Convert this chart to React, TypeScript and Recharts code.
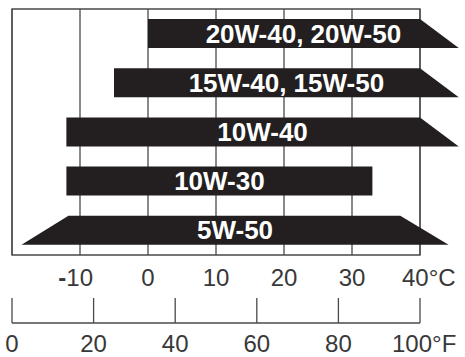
import { BarChart, Bar, XAxis, YAxis, CartesianGrid, ReferenceArea } from 'recharts';

// SAE grades, top to bottom
const grades = ['20W-40, 20W-50', '15W-40, 15W-50', '10W-40', '10W-30', '5W-50'];
// temperature span in °C along the top edge of each band
const topFrom = [0, -5, -12, -12, -11.7];
const topTo = [40, 40, 40, 33, 37.1];
// and along the bottom edge (slanted ends = arrows)
const bottomFrom = [0, -5, -12, -12, -18.6];
const bottomTo = [45.7, 45.7, 45.7, 33, 44.2];

const celsiusTicks = [-20, -10, 0, 10, 20, 30, 40];
const fahrenheitTicks = [0, 20, 40, 60, 80, 100];

const data = grades.map((grade, i) => ({
  grade,
  range: [topFrom[i], topTo[i]],
  bottomFrom: bottomFrom[i],
  bottomTo: bottomTo[i],
}));

const FONT = '"Liberation Sans", Arial, sans-serif';
const LINE = '#4a4a4a';
const INK = '#383838';

function GradeShape(props: any) {
  const { x, y, width, height, payload } = props;
  const [a, b] = payload.range;
  const k = width / (b - a);
  const tl = x;
  const tr = x + width;
  const bl = x + (payload.bottomFrom - a) * k;
  const br = x + (payload.bottomTo - a) * k;
  const left = Math.min(tl, bl);
  const right = Math.max(tr, br);
  return (
    <g>
      <polygon
        points={`${tl},${y} ${tr},${y} ${br},${y + height} ${bl},${y + height}`}
        fill="#231f20"
      />
      <text
        x={(left + right) / 2}
        y={y + height / 2 + 9}
        textAnchor="middle"
        fill="#fff"
        fontSize={26}
        fontWeight="bold"
        fontFamily={FONT}
      >
        {payload.grade}
      </text>
    </g>
  );
}

function CelsiusTick(props: any) {
  const { x, y, payload } = props;
  const v = payload.value;
  if (v === -20) return <g />;
  const common = { fontSize: 24, fontFamily: FONT, fill: INK };
  if (v < 0) {
    return (
      <text x={x + 13} y={y + 31} textAnchor="end" {...common}>
        <tspan fontWeight="bold">-</tspan>
        {Math.abs(v)}
      </text>
    );
  }
  if (v === 40) {
    return (
      <text x={x - 18} y={y + 31} textAnchor="start" {...common}>
        {v}°C
      </text>
    );
  }
  return (
    <text x={x} y={y + 31} textAnchor="middle" {...common}>
      {v}
    </text>
  );
}

function FahrenheitTick(props: any) {
  const { x, y, payload } = props;
  const v = payload.value;
  const common = { fontSize: 24, fontFamily: FONT, fill: INK };
  return (
    <g>
      <line x1={x} y1={y} x2={x} y2={y - 25} stroke={LINE} strokeWidth={1.3} />
      {v === 100 ? (
        <text x={x - 28} y={y + 29} textAnchor="start" {...common}>
          {v}°F
        </text>
      ) : (
        <text x={x} y={y + 29} textAnchor="middle" {...common}>
          {v}
        </text>
      )}
    </g>
  );
}

export default function App() {
  return (
    <div style={{ position: 'absolute', left: 0, top: 0, background: '#fff' }}>
      <BarChart
        width={465}
        height={357}
        data={data}
        layout="vertical"
        margin={{ top: 9, right: 45, left: 12, bottom: 0 }}
      >
        <CartesianGrid
          xAxisId="c"
          horizontal={false}
          stroke={LINE}
          strokeWidth={1.3}
        />
        <ReferenceArea
          xAxisId="c"
          x1={-20}
          x2={40}
          fill="none"
          fillOpacity={0}
          stroke={LINE}
          strokeWidth={1.3}
        />
        <YAxis type="category" dataKey="grade" hide />
        <XAxis
          xAxisId="c"
          type="number"
          domain={[-20, 40]}
          ticks={celsiusTicks}
          interval={0}
          height={68}
          axisLine={false}
          tickLine={false}
          tickSize={0}
          tickMargin={0}
          tick={CelsiusTick}
        />
        <XAxis
          xAxisId="f"
          type="number"
          domain={[0, 100]}
          ticks={fahrenheitTicks}
          interval={0}
          height={34}
          axisLine={{ stroke: LINE, strokeWidth: 1.3 }}
          tickLine={false}
          tickSize={0}
          tickMargin={0}
          tick={FahrenheitTick}
          allowDataOverflow
        />
        <Bar
          xAxisId="c"
          dataKey="range"
          barSize={29}
          shape={GradeShape}
          isAnimationActive={false}
        />
      </BarChart>
    </div>
  );
}
